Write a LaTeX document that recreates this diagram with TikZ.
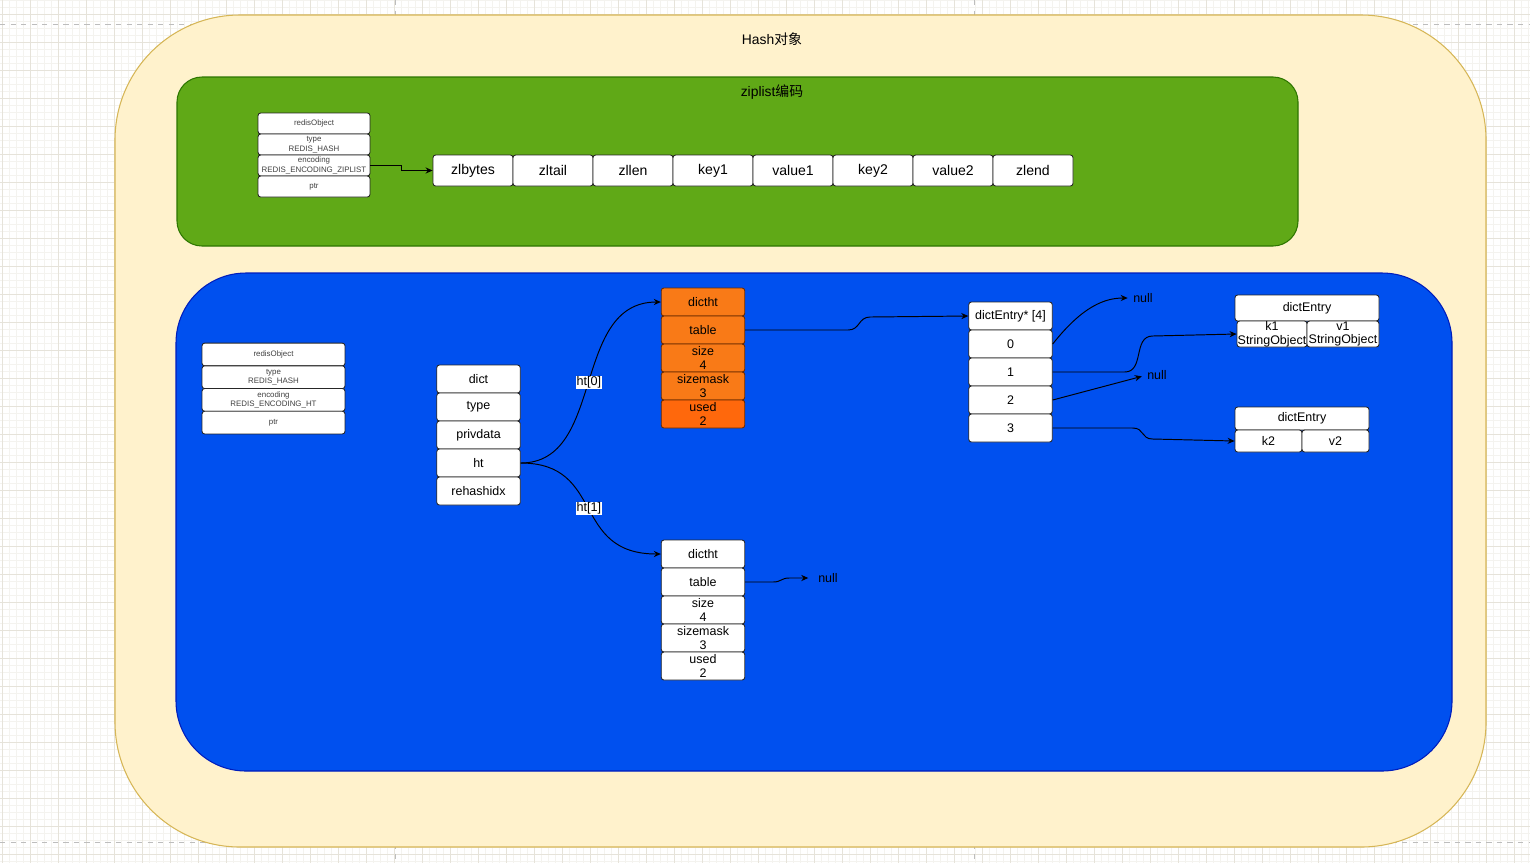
\documentclass[tikz,border=0pt]{standalone}
\usepackage{fontspec}
\setmainfont{Liberation Sans}
\newfontfamily\cjk{Noto Sans CJK SC}
\usetikzlibrary{arrows.meta}

\definecolor{hashfill}{HTML}{FFF2CC}
\definecolor{hashline}{HTML}{D6B656}
\definecolor{zipfill}{HTML}{60A917}
\definecolor{zipline}{HTML}{2D7600}
\definecolor{htfill}{HTML}{0050EF}
\definecolor{htline}{HTML}{001DBC}
\definecolor{orangecell}{HTML}{F97A17}
\definecolor{orangeused}{HTML}{FF680C}
\definecolor{orangeline}{HTML}{6B2A00}
\definecolor{gridmajor}{HTML}{E6E3DA}
\definecolor{gridminor}{HTML}{F4F3EF}
\definecolor{pageline}{HTML}{BDBDBD}

\begin{document}
\begin{tikzpicture}[x=0.02cm, y=-0.02cm,
  cell/.style={draw=black!85, fill=white, rounded corners=1.5pt, line width=0.5pt,
    inner sep=0pt, align=center, font=\fontsize{7.1}{7.9}\selectfont},
  objcell/.style={cell, minimum width=2.24cm, minimum height=0.42cm,
    font=\fontsize{4.5}{5.4}\selectfont, text=black!75},
  htobj/.style={objcell, minimum width=2.86cm, minimum height=0.455cm},
  zipcell/.style={cell, minimum width=1.6cm, minimum height=0.62cm,
    font=\fontsize{8}{9}\selectfont},
  fieldcell/.style={cell, minimum width=1.67cm, minimum height=0.56cm},
  orangebox/.style={fieldcell, fill=orangecell, draw=orangeline},
  link/.style={-{Stealth[length=4pt,width=3.5pt]}, line width=0.55pt},
  nulltxt/.style={inner sep=0pt, font=\fontsize{7.1}{7.9}\selectfont},
  htlbl/.style={fill=white, inner sep=0.6pt, font=\fontsize{7.2}{8}\selectfont},
  titletxt/.style={font=\fontsize{7.9}{9}\selectfont}]
  \useasboundingbox (0,0) rectangle (1530,863);

  %% canvas grid
  \fill[white] (0,0) rectangle (1530,863);
  \foreach \gx in {0,...,218}
    \draw[gridminor, line width=0.3pt] ({2.7+7*\gx},0) -- ({2.7+7*\gx},863);
  \foreach \gy in {0,...,123}
    \draw[gridminor, line width=0.3pt] (0,{7*\gy}) -- (1530,{7*\gy});
  \foreach \gx in {0,...,54}
    \draw[gridmajor, line width=0.45pt] ({2.7+28*\gx},0) -- ({2.7+28*\gx},863);
  \foreach \gy in {0,...,30}
    \draw[gridmajor, line width=0.45pt] (0,{14+28*\gy}) -- (1530,{14+28*\gy});
  \draw[pageline, dashed, line width=0.5pt] (0,24) -- (1530,24);
  \draw[pageline, dashed, line width=0.5pt] (0,842) -- (1530,842);
  \draw[pageline, dashed, line width=0.5pt] (395,0) -- (395,863);
  \draw[pageline, dashed, line width=0.5pt] (974,0) -- (974,863);

  %% containers
  \draw[hashline, fill=hashfill, rounded corners=2.5cm, line width=0.6pt] (115,15) rectangle (1486,847);
  \node[titletxt] (hashtitle) at (772,39) {Hash{\cjk 对象}};
  \draw[zipline, fill=zipfill, rounded corners=0.5cm, line width=0.6pt] (177,77) rectangle (1298,246);
  \node[titletxt] (ziptitle) at (772,92) {ziplist{\cjk 编码}};
  \draw[htline, fill=htfill, rounded corners=1.4cm, line width=0.6pt] (176,273) rectangle (1452,771);

  %% ziplist encoding
  \node[objcell] (zo1) at (314,123.5) {redisObject};
  \node[objcell] (zo2) at (314,144.5) {type\\REDIS\_HASH};
  \node[objcell] (zo3) at (314,165.5) {encoding\\REDIS\_ENCODING\_ZIPLIST};
  \node[objcell] (zo4) at (314,186.5) {ptr};

  \foreach \name [count=\i] in {zlbytes,zltail,zllen,key1,value1,key2,value2,zlend}
    \node[zipcell] (z\i) at ({393+80*\i},170.5) {\name};

  \draw[link] (zo3.east) -- ++(31,0) |- (z1.west);

  %% hashtable encoding
  \node[htobj] (ho1) at (273.5,354.5) {redisObject};
  \node[htobj] (ho2) at (273.5,377.2) {type\\REDIS\_HASH};
  \node[htobj] (ho3) at (273.5,399.9) {encoding\\REDIS\_ENCODING\_HT};
  \node[htobj] (ho4) at (273.5,422.6) {ptr};

  \foreach \name [count=\i] in {dict,type,privdata,ht,rehashidx}
    \node[fieldcell] (h\i) at (478.5,{351+28*\i}) {\name};

  %% ht[0]
  \node[orangebox] (d1) at (703,302) {dictht};
  \node[orangebox] (d2) at (703,330) {table};
  \node[orangebox] (d3) at (703,358) {size\\4};
  \node[orangebox] (d4) at (703,386) {sizemask\\3};
  \node[orangebox, fill=orangeused] (d5) at (703,414) {used\\2};

  %% ht[1]
  \node[fieldcell] (b1) at (703,554) {dictht};
  \node[fieldcell] (b2) at (703,582) {table};
  \node[fieldcell] (b3) at (703,610) {size\\4};
  \node[fieldcell] (b4) at (703,638) {sizemask\\3};
  \node[fieldcell] (b5) at (703,666) {used\\2};

  %% table array
  \node[fieldcell] (a1) at (1010.5,316) {dictEntry* [4]};
  \node[fieldcell] (a2) at (1010.5,344) {0};
  \node[fieldcell] (a3) at (1010.5,372) {1};
  \node[fieldcell] (a4) at (1010.5,400) {2};
  \node[fieldcell] (a5) at (1010.5,428) {3};

  %% entries
  \node[cell, minimum width=2.88cm, minimum height=0.52cm] (e1) at (1307,308) {dictEntry};
  \node[cell, minimum width=1.4cm, minimum height=0.52cm] (k1) at (1272,334) {k1\\StringObject};
  \node[cell, minimum width=1.44cm, minimum height=0.52cm] (v1) at (1343,334) {v1\\StringObject};
  \node[cell, minimum width=2.68cm, minimum height=0.46cm] (e2) at (1302,418.5) {dictEntry};
  \node[cell, minimum width=1.34cm, minimum height=0.44cm] (k2) at (1268.5,441) {k2};
  \node[cell, minimum width=1.34cm, minimum height=0.44cm] (v2) at (1335.5,441) {v2};

  \node[nulltxt] (n1) at (1143,298) {null};
  \node[nulltxt] (n2) at (1157,375) {null};
  \node[nulltxt] (n3) at (828,578) {null};

  %% links
  \draw[link] (h4.east) .. controls +(85,0) and +(-90,0) .. (d1.west) node[htlbl, pos=0.5] {ht[0]};
  \draw[link] (h4.east) .. controls +(85,0) and +(-90,0) .. (b1.west) node[htlbl, pos=0.5] {ht[1]};
  \draw[link] (d2.east) -- ++(103,0) .. controls +(12,0) and +(-12,0) .. ++(22,-13) -- (a1.west);
  \draw[link, shorten >=3pt] (a2.east) .. controls +(30,-38) and +(-28,0) .. (n1.west);
  \draw[link] (a3.east) -- ++(72,0) .. controls +(20,0) and +(-20,0) .. ++(28,-36) -- (k1.west);
  \draw[link, shorten >=3pt] (a4.east) -- (n2.west);
  \draw[link] (a5.east) -- ++(80,0) .. controls +(12,0) and +(-12,0) .. ++(20,11) -- (k2.west);
  \draw[link, shorten >=5.5pt] (b2.east) -- ++(28,0) .. controls +(8,0) and +(-8,0) .. ++(16,-4) -- (n3.west);
\end{tikzpicture}
\end{document}
